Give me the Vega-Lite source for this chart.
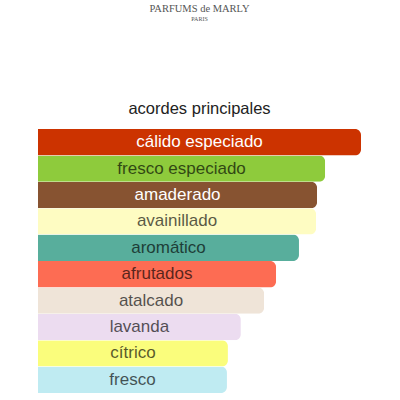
{
  "$schema": "https://vega.github.io/schema/vega-lite/v6.json",
  "padding": {"left": 38, "top": 4, "right": 0, "bottom": 0},
  "title": {
    "text": "PARFUMS de MARLY",
    "subtitle": "PARIS",
    "font": "Liberation Serif",
    "fontSize": 10.5,
    "fontWeight": "normal",
    "color": "#555",
    "subtitleFont": "Liberation Serif",
    "subtitleFontSize": 6,
    "subtitleColor": "#555",
    "subtitlePadding": 1,
    "anchor": "middle",
    "offset": 79
  },
  "data": {
    "values": [
      {"accord": "cálido especiado", "value": 100},
      {"accord": "fresco especiado", "value": 88.9},
      {"accord": "amaderado", "value": 86.4},
      {"accord": "avainillado", "value": 86.1},
      {"accord": "aromático", "value": 80.8},
      {"accord": "afrutados", "value": 73.7},
      {"accord": "atalcado", "value": 70},
      {"accord": "lavanda", "value": 62.8},
      {"accord": "cítrico", "value": 58.8},
      {"accord": "fresco", "value": 58.5}
    ]
  },
  "vconcat": [
    {
      "title": {
        "text": "acordes principales",
        "font": "Liberation Sans",
        "fontSize": 16.5,
        "fontWeight": "normal",
        "color": "#222",
        "anchor": "middle",
        "offset": 12
      },
      "width": 323,
      "height": 264,
      "encoding": {
        "y": {
          "field": "accord",
          "type": "nominal",
          "sort": null,
          "axis": null,
          "scale": {"paddingInner": 0, "paddingOuter": 0}
        }
      },
      "layer": [
        {
          "mark": {"type": "bar", "cornerRadiusTopRight": 6, "cornerRadiusBottomRight": 6},
          "encoding": {
            "x": {"field": "value", "type": "quantitative", "axis": null, "scale": {"domain": [0, 100], "nice": false}},
            "color": {
              "field": "accord",
              "type": "nominal",
              "legend": null,
              "scale": {
                "domain": ["cálido especiado", "fresco especiado", "amaderado", "avainillado", "aromático", "afrutados", "atalcado", "lavanda", "cítrico", "fresco"],
                "range": ["#cc3300", "#8ecb3c", "#875331", "#fefcc2", "#58ae9c", "#fd6c53", "#efe4d8", "#ecdcf0", "#fafd7c", "#bfebf2"]
              }
            }
          }
        },
        {
          "mark": {"type": "text", "font": "Liberation Sans", "fontSize": 17, "align": "center", "baseline": "middle"},
          "encoding": {
            "x": {"field": "value", "type": "quantitative", "axis": null, "scale": {"domain": [0, 200], "nice": false}},
            "text": {"field": "accord"},
            "color": {
              "condition": {"test": "datum.accord == 'cálido especiado' || datum.accord == 'amaderado'", "value": "#ffffff"},
              "value": "#000000"
            },
            "opacity": {
              "condition": {"test": "datum.accord == 'cálido especiado' || datum.accord == 'amaderado'", "value": 1},
              "value": 0.65
            }
          }
        }
      ],
      "resolve": {"scale": {"x": "independent"}}
    }
  ],
  "config": {"view": {"stroke": null}}
}
